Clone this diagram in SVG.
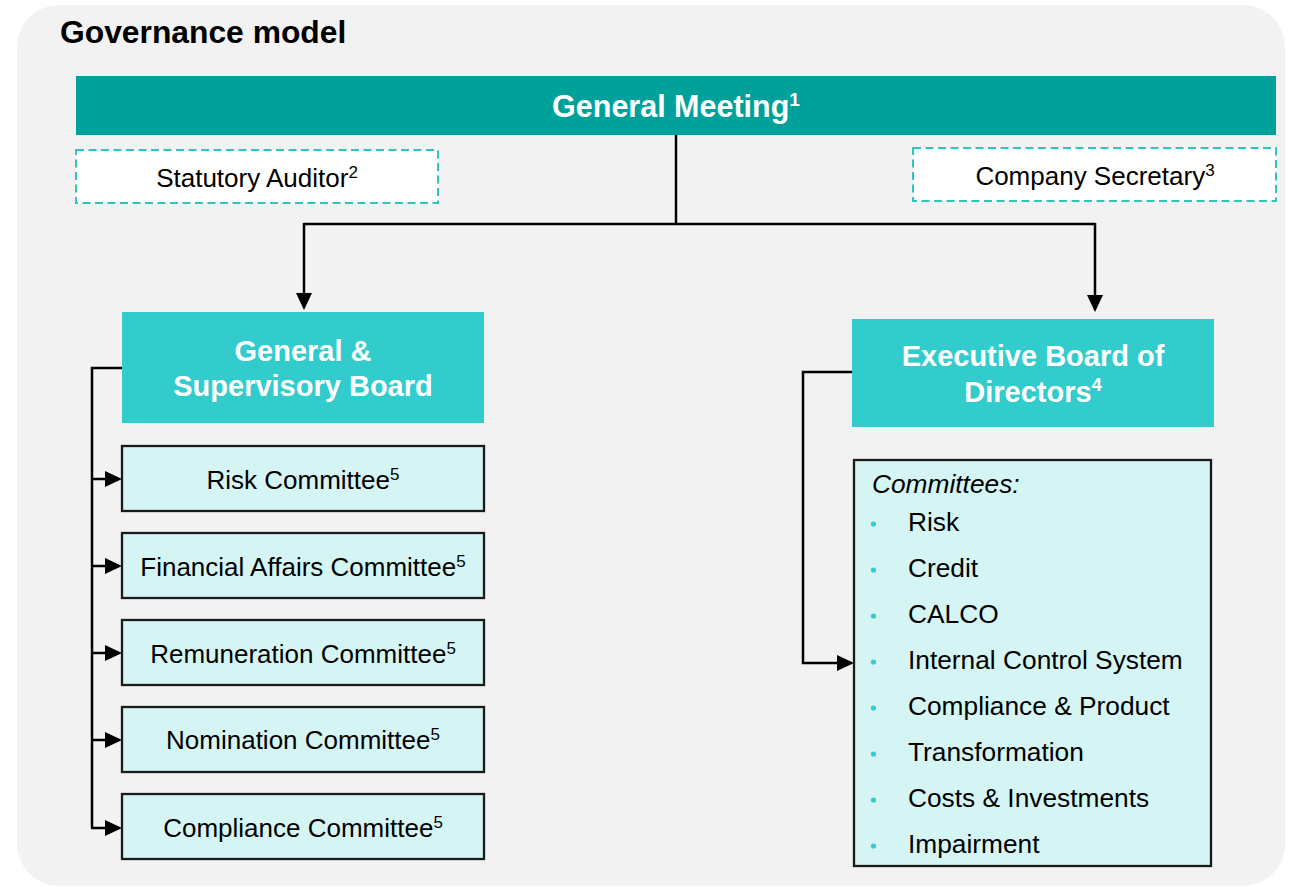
<svg xmlns="http://www.w3.org/2000/svg" width="1289" height="887" viewBox="0 0 1289 887">
<style>
text{font-family:"Liberation Sans",Arial,sans-serif;}
.title{font-size:31.8px;font-weight:bold;fill:#000;}
.hdr{font-size:29px;font-weight:bold;fill:#fff;text-anchor:middle;}
.lbl{font-size:26px;fill:#000;text-anchor:middle;}
.item{font-size:26.3px;fill:#000;}
.sup{font-size:17px;}
.dash{fill:#fff;stroke:#2fc4be;stroke-width:2;stroke-dasharray:8 4.5;}
.board{fill:#33cccc;}
.comm{fill:#d5f5f5;stroke:#1a1a1a;stroke-width:2.3;}
.conn{fill:none;stroke:#000;stroke-width:2.5;}
.bul{fill:#33cccc;}
</style>
<defs>
<marker id="arr" markerUnits="userSpaceOnUse" markerWidth="19" markerHeight="18" refX="14" refY="8" orient="auto">
<path d="M0,0 L17,8 L0,16 z" fill="#000"/>
</marker>
</defs>
<rect x="17" y="5" width="1268" height="881" rx="42" ry="42" fill="#f2f2f2"/>
<text class="title" x="60" y="43">Governance model</text>

<g id="general-meeting">
<rect x="76" y="76" width="1200" height="59" fill="#00a19a"/>
<text class="hdr" x="676" y="117" style="font-size:30.5px">General Meeting<tspan class="sup" dy="-11" style="font-size:19px">1</tspan></text>
</g>
<g id="statutory-auditor">
<rect class="dash" x="76" y="150" width="362" height="53"/>
<text class="lbl" x="257" y="187">Statutory Auditor<tspan class="sup" dy="-9">2</tspan></text>
</g>
<g id="company-secretary">
<rect class="dash" x="913" y="148" width="363" height="53"/>
<text class="lbl" x="1095" y="185">Company Secretary<tspan class="sup" dy="-9">3</tspan></text>
</g>

<g id="connectors">
<path class="conn" d="M676,135 V224"/>
<path class="conn" d="M304,224 H1095"/>
<path class="conn" d="M304,223 V307" marker-end="url(#arr)"/>
<path class="conn" d="M1095,223 V309" marker-end="url(#arr)"/>
<path class="conn" d="M122,368 H92 V828"/>
<path class="conn" d="M91,479 H119" marker-end="url(#arr)"/>
<path class="conn" d="M91,566 H119" marker-end="url(#arr)"/>
<path class="conn" d="M91,653 H119" marker-end="url(#arr)"/>
<path class="conn" d="M91,740 H119" marker-end="url(#arr)"/>
<path class="conn" d="M91,828 H119" marker-end="url(#arr)"/>
<path class="conn" d="M852,372 H803 V663 H851" marker-end="url(#arr)"/>
</g>

<g id="supervisory-board">
<rect class="board" x="122" y="312" width="362" height="111"/>
<text class="hdr" x="303" y="361">General &amp;</text>
<text class="hdr" x="303" y="396">Supervisory Board</text>
</g>
<g id="risk-committee">
<rect class="comm" x="122" y="446" width="362" height="65"/>
<text class="lbl" x="303" y="489">Risk Committee<tspan class="sup" dy="-9">5</tspan></text>
</g>
<g id="financial-affairs-committee">
<rect class="comm" x="122" y="533" width="362" height="65"/>
<text class="lbl" x="303" y="576">Financial Affairs Committee<tspan class="sup" dy="-9">5</tspan></text>
</g>
<g id="remuneration-committee">
<rect class="comm" x="122" y="620" width="362" height="65"/>
<text class="lbl" x="303" y="663">Remuneration Committee<tspan class="sup" dy="-9">5</tspan></text>
</g>
<g id="nomination-committee">
<rect class="comm" x="122" y="707" width="362" height="65"/>
<text class="lbl" x="303" y="749">Nomination Committee<tspan class="sup" dy="-9">5</tspan></text>
</g>
<g id="compliance-committee">
<rect class="comm" x="122" y="794" width="362" height="65"/>
<text class="lbl" x="303" y="837">Compliance Committee<tspan class="sup" dy="-9">5</tspan></text>
</g>

<g id="executive-board">
<rect class="board" x="852" y="319" width="362" height="108"/>
<text class="hdr" x="1033" y="366">Executive Board of</text>
<text class="hdr" x="1033" y="402">Directors<tspan class="sup" dy="-11" style="font-size:18px">4</tspan></text>
</g>
<g id="executive-committees">
<rect class="comm" x="854" y="460" width="357" height="406"/>
<text class="item" x="872" y="493" font-style="italic">Committees:</text>
<circle class="bul" cx="873.5" cy="524" r="2.6"/><text class="item" x="908" y="531">Risk</text>
<circle class="bul" cx="873.5" cy="570" r="2.6"/><text class="item" x="908" y="577">Credit</text>
<circle class="bul" cx="873.5" cy="616" r="2.6"/><text class="item" x="908" y="623">CALCO</text>
<circle class="bul" cx="873.5" cy="662" r="2.6"/><text class="item" x="908" y="669">Internal Control System</text>
<circle class="bul" cx="873.5" cy="708" r="2.6"/><text class="item" x="908" y="715">Compliance &amp; Product</text>
<circle class="bul" cx="873.5" cy="754" r="2.6"/><text class="item" x="908" y="761">Transformation</text>
<circle class="bul" cx="873.5" cy="800" r="2.6"/><text class="item" x="908" y="807">Costs &amp; Investments</text>
<circle class="bul" cx="873.5" cy="846" r="2.6"/><text class="item" x="908" y="853">Impairment</text>
</g>
</svg>
